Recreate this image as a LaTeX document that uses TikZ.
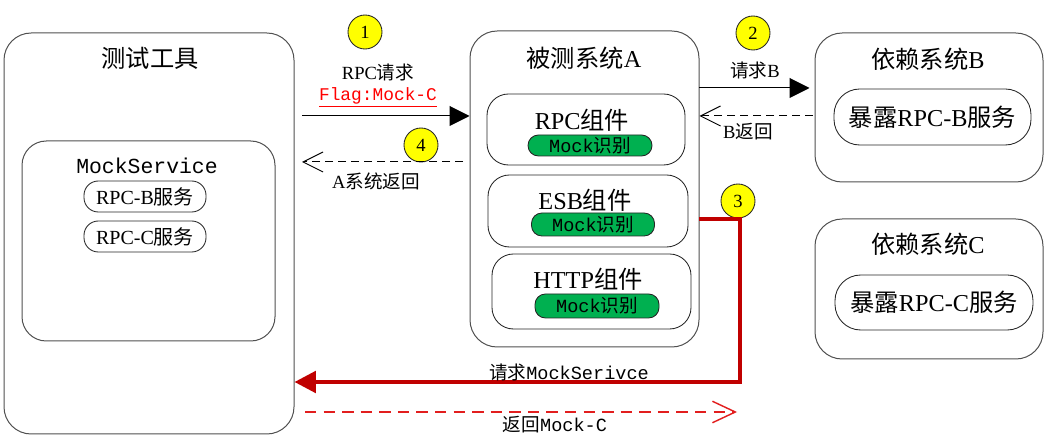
\documentclass[tikz,border=0pt]{standalone}
\usepackage{fontspec}
\setmainfont{Liberation Serif}
\setmonofont{Liberation Mono}
\newfontfamily\cjk{Noto Sans CJK SC}
\newcommand\zh[1]{{\cjk #1}}
\newcommand\pxu{0.7pt}
\usepackage{tikz}
\usetikzlibrary{arrows.meta}

\definecolor{boxgray}{RGB}{80,80,80}
\definecolor{mockgreen}{RGB}{0,176,80}
\definecolor{stepyellow}{RGB}{255,255,0}
\definecolor{callred}{RGB}{192,0,0}
\definecolor{backred}{RGB}{226,30,30}

\tikzset{
  sysbox/.style={draw=boxgray, line width=0.7pt, rounded corners=19pt, inner sep=0pt},
  compbox/.style={draw=black!85, line width=0.6pt, rounded corners=15pt, inner sep=0pt},
  greenpill/.style={draw=black!85, fill=mockgreen, line width=0.6pt, rounded corners=7.3pt, inner sep=0pt,
    font=\fontsize{13}{14}\selectfont},
  svcpill/.style={draw=black!85, line width=0.6pt, rounded corners=10pt, inner sep=0pt,
    font=\fontsize{14}{16}\selectfont},
  stepmark/.style={circle, draw=black!85, fill=stepyellow, line width=0.6pt, inner sep=0pt,
    minimum size=34*\pxu, font=\fontsize{13}{14}\selectfont},
  titletext/.style={font=\fontsize{17}{20}\selectfont},
  lbltext/.style={font=\fontsize{13}{15}\selectfont},
  fwd/.style={line width=0.7pt, -{Triangle[length=14pt,width=14pt]}},
  back/.style={line width=0.7pt, dash pattern=on 5.6pt off 3.5pt, -{Straight Barb[length=14pt,width=14pt]}},
  mockcall/.style={callred, line width=2.8pt, -{Triangle[length=15pt,width=15pt]}},
  mockback/.style={backred, line width=1pt, dash pattern=on 8pt off 5pt, -{Straight Barb[length=16pt,width=15pt]}}
}

\begin{document}
\begin{tikzpicture}[x=\pxu, y=-\pxu]
\useasboundingbox (0,0) rectangle (1052,442);

%test tool
\node[sysbox, minimum width=290*\pxu, minimum height=401*\pxu] (tool) at (149,233.5) {};
\node[titletext] (toolT) at (150,58) {\zh{测试工具}};
\node[sysbox, rounded corners=17pt, minimum width=253*\pxu, minimum height=200*\pxu] (mocksvc) at (148.5,241) {};
\node[font=\fontsize{15}{17}\selectfont\ttfamily] (mocksvcT) at (147,166) {MockService};
\node[svcpill, minimum width=122*\pxu, minimum height=31*\pxu] (svcB) at (145,196.5) {RPC-B\zh{服务}};
\node[svcpill, minimum width=122*\pxu, minimum height=31*\pxu] (svcC) at (145,236.5) {RPC-C\zh{服务}};

%system under test
\node[sysbox, minimum width=229*\pxu, minimum height=316*\pxu] (sysA) at (584.5,189) {};
\node[titletext] (sysAT) at (584,58) {\zh{被测系统}A};
\node[compbox, minimum width=198*\pxu, minimum height=71*\pxu] (rpc) at (586,129.5) {};
\node[titletext] (rpcT) at (582,120) {RPC\zh{组件}};
\node[greenpill, minimum width=124*\pxu, minimum height=21*\pxu] (rpcM) at (590,145.5) {\texttt{Mock}\zh{识别}};
\node[compbox, minimum width=200*\pxu, minimum height=72*\pxu] (esb) at (588,211) {};
\node[titletext] (esbT) at (585,200) {ESB\zh{组件}};
\node[greenpill, minimum width=123*\pxu, minimum height=23*\pxu] (esbM) at (593,224.5) {\texttt{Mock}\zh{识别}};
\node[compbox, minimum width=199*\pxu, minimum height=75*\pxu] (http) at (591.5,291.5) {};
\node[titletext] (httpT) at (588,279) {HTTP\zh{组件}};
\node[greenpill, minimum width=124*\pxu, minimum height=24*\pxu] (httpM) at (597,306) {\texttt{Mock}\zh{识别}};

%dependencies
\node[sysbox, minimum width=228*\pxu, minimum height=149*\pxu] (depB) at (929,107.5) {};
\node[titletext] (depBT) at (928,59) {\zh{依赖系统}B};
\node[compbox, rounded corners=18pt, minimum width=197*\pxu, minimum height=56*\pxu] (expB) at (932.5,117) {};
\node[titletext] at (expB) {\zh{暴露}RPC-B\zh{服务}};
\node[sysbox, minimum width=228*\pxu, minimum height=140*\pxu] (depC) at (929,289) {};
\node[titletext] (depCT) at (928,244) {\zh{依赖系统}C};
\node[compbox, rounded corners=18pt, minimum width=198*\pxu, minimum height=55*\pxu] (expC) at (934,302.5) {};
\node[titletext] at (expC) {\zh{暴露}RPC-C\zh{服务}};

%step marks
\node[stepmark] (s1) at (365,32) {1};
\node[stepmark] (s2) at (753,33) {2};
\node[stepmark] (s3) at (738,201) {3};
\node[stepmark] (s4) at (421,145) {4};

%coordinates
\coordinate (a1) at (302,116); % request start
\coordinate (a4) at (463,162); % return start
\coordinate (b2) at (699,88);
\coordinate (b4) at (813,116);
\coordinate (r0) at (699,219); % mock call
\coordinate (r1) at (740,219);
\coordinate (r2) at (740,382);
\coordinate (d0) at (305,412); % mock return
\coordinate (d1) at (737,412);

%arrows
\draw[fwd] (a1) -- (sysA.west |- a1);
\draw[back] (a4) -- (a1 |- a4);
\draw[fwd] (b2) -- ([xshift=-3.5pt]depB.west |- b2);
\draw[back] (b4) -- (sysA.east |- b4);
\draw[mockcall] (r0) -- (r1) -- (r2) -- (tool.east |- r2);
\draw[mockback] (d0) -- (d1);

%labels
\node[lbltext] (l1) at (378,72) {RPC\zh{请求}};
\node[red, font=\fontsize{12.5}{14}\selectfont] (l1f) at (378,97) {\underline{\texttt{Flag:Mock-C}}};
\node[lbltext] (l4) at (376,181) {A\zh{系统返回}};
\node[lbltext] (l2) at (755,70) {\zh{请求}B};
\node[lbltext] (l2b) at (748,132) {B\zh{返回}};
\node[lbltext] (l3) at (569,372) {\zh{请求}\texttt{MockSerivce}};
\node[lbltext] (l3b) at (555,425) {\zh{返回}\texttt{Mock-C}};

\end{tikzpicture}
\end{document}
